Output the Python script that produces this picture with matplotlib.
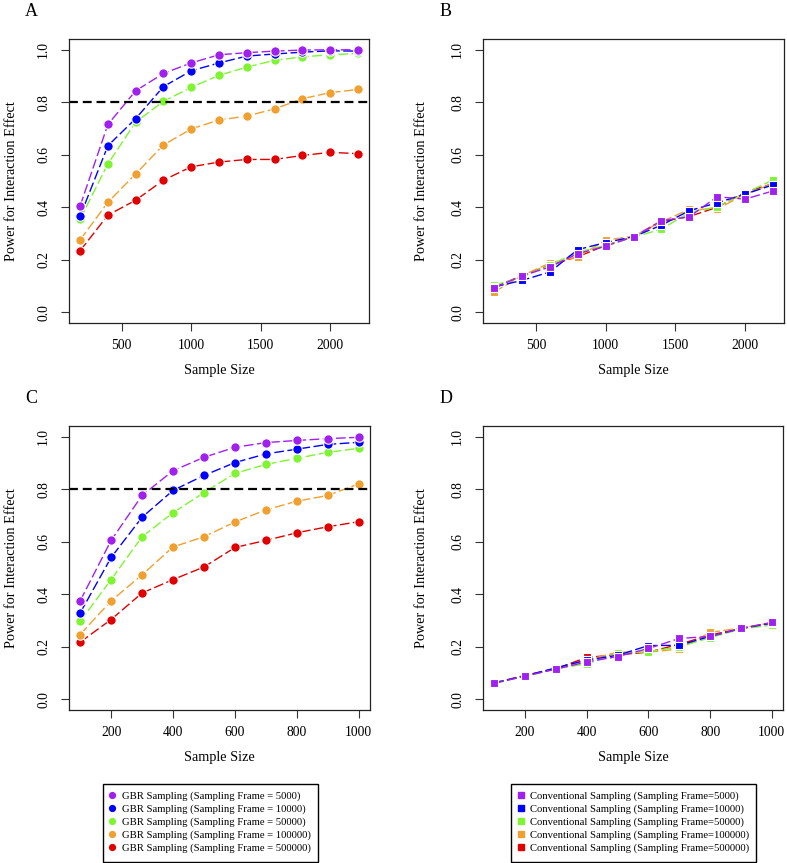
import matplotlib
matplotlib.use("Agg")
import matplotlib.pyplot as plt
from matplotlib.lines import Line2D
from matplotlib.patches import Rectangle

plt.rcParams['font.family'] = ['Liberation Serif', 'DejaVu Serif']

# ---------------- data ----------------
n_ab = [200, 400, 600, 800, 1000, 1200, 1400, 1600, 1800, 2000, 2200]
n_cd = [100, 200, 300, 400, 500, 600, 700, 800, 900, 1000]

frames = ["5000", "10000", "50000", "100000", "500000"]
colors = ["#A020F0", "#0000FF", "#7FF531", "#F0A030", "#E00000"]

# Panel A : GBR sampling
A_5000 = [0.405, 0.715, 0.843, 0.909, 0.949, 0.980, 0.988, 0.994, 0.998, 0.999, 0.999]
A_10000 = [0.366, 0.634, 0.737, 0.859, 0.919, 0.949, 0.975, 0.983, 0.990, 0.995, 0.994]
A_50000 = [0.355, 0.565, 0.724, 0.803, 0.856, 0.902, 0.933, 0.959, 0.972, 0.980, 0.985]
A_100000 = [0.276, 0.419, 0.527, 0.637, 0.698, 0.732, 0.747, 0.774, 0.813, 0.836, 0.848]
A_500000 = [0.235, 0.370, 0.427, 0.503, 0.554, 0.572, 0.582, 0.582, 0.597, 0.609, 0.604]

# Panel B : conventional sampling
B_5000 = [0.094, 0.139, 0.173, 0.224, 0.252, 0.288, 0.349, 0.364, 0.440, 0.431, 0.462]
B_10000 = [0.097, 0.122, 0.154, 0.239, 0.266, 0.288, 0.332, 0.387, 0.417, 0.450, 0.485]
B_50000 = [0.103, 0.135, 0.180, 0.230, 0.255, 0.286, 0.317, 0.380, 0.402, 0.453, 0.504]
B_100000 = [0.078, 0.140, 0.188, 0.211, 0.275, 0.290, 0.345, 0.392, 0.393, 0.450, 0.490]
B_500000 = [0.097, 0.140, 0.180, 0.212, 0.255, 0.288, 0.345, 0.365, 0.400, 0.457, 0.490]

# Panel C : GBR sampling
C_5000 = [0.375, 0.605, 0.776, 0.870, 0.921, 0.959, 0.977, 0.985, 0.992, 0.997]
C_10000 = [0.329, 0.540, 0.693, 0.795, 0.852, 0.901, 0.934, 0.952, 0.970, 0.978]
C_50000 = [0.297, 0.456, 0.619, 0.710, 0.787, 0.860, 0.894, 0.917, 0.940, 0.955]
C_100000 = [0.247, 0.375, 0.474, 0.580, 0.619, 0.675, 0.721, 0.754, 0.776, 0.820]
C_500000 = [0.218, 0.304, 0.405, 0.456, 0.504, 0.578, 0.605, 0.634, 0.657, 0.676]

# Panel D : conventional sampling
D_5000 = [0.061, 0.089, 0.115, 0.143, 0.163, 0.194, 0.232, 0.240, 0.270, 0.293]
D_10000 = [0.063, 0.090, 0.120, 0.150, 0.168, 0.205, 0.206, 0.240, 0.270, 0.290]
D_50000 = [0.066, 0.086, 0.118, 0.135, 0.175, 0.182, 0.200, 0.235, 0.268, 0.283]
D_100000 = [0.063, 0.090, 0.116, 0.150, 0.180, 0.180, 0.192, 0.255, 0.272, 0.292]
D_500000 = [0.063, 0.092, 0.117, 0.160, 0.170, 0.180, 0.210, 0.245, 0.270, 0.292]

threshold = 0.8
yticks = [0.0, 0.2, 0.4, 0.6, 0.8, 1.0]
xticks_ab = [500, 1000, 1500, 2000]
xticks_cd = [200, 400, 600, 800, 1000]

gbr_labels = ["GBR Sampling (Sampling Frame = %s)" % f for f in frames]
conv_labels = ["Conventional Sampling (Sampling Frame=%s)" % f for f in frames]

# ---------------- figure ----------------
W, H = 787, 863
fig = plt.figure(figsize=(W / 100, H / 100), dpi=100)


def fig_rect(x0, y0, x1, y1):
    return [x0 / W, 1 - y1 / H, (x1 - x0) / W, (y1 - y0) / H]


axA = fig.add_axes(fig_rect(69, 39, 369, 323))
axB = fig.add_axes(fig_rect(483, 39, 784, 323))
axC = fig.add_axes(fig_rect(69, 426, 370, 710))
axD = fig.add_axes(fig_rect(483, 426, 783, 710))

dash = (0, (7, 2.5))


def panel(ax, x, series, marker, ms, xticks, hline):
    # draw in reverse so that the first series is on top
    for ys, c in reversed(list(zip(series, colors))):
        ax.plot(x, ys, linestyle=dash, color=c, lw=1.0, marker=marker,
                markersize=ms, markerfacecolor=c, markeredgecolor='white',
                markeredgewidth=0.8)
    if hline:
        ax.axhline(threshold, color='black', lw=1.6, linestyle=(0, (4.0, 2.2)))
    span = x[-1] - x[0]
    ax.set_xlim(x[0] - 0.04 * span, x[-1] + 0.04 * span)
    ax.set_ylim(-0.04, 1.04)
    ax.set_xticks(xticks)
    ax.set_yticks(yticks)
    ax.set_yticklabels(["%.1f" % v for v in yticks], rotation=90, va='center')
    ax.tick_params(axis='both', direction='out', length=5.5, width=0.8,
                   labelsize=9.8, color='#333333')
    ax.tick_params(axis='y', pad=8)
    ax.tick_params(axis='x', pad=6)
    for s in ax.spines.values():
        s.set_linewidth(0.9)
        s.set_color('#222222')
    ax.set_xlabel("Sample Size", fontsize=10.3)
    ax.set_ylabel("Power for Interaction Effect", fontsize=10.3)
    ax.xaxis.set_label_coords(0.5, -0.145)


panel(axA, n_ab, [A_5000, A_10000, A_50000, A_100000, A_500000], 'o', 6.8, xticks_ab, True)
panel(axB, n_ab, [B_5000, B_10000, B_50000, B_100000, B_500000], 's', 5.8, xticks_ab, False)
panel(axC, n_cd, [C_5000, C_10000, C_50000, C_100000, C_500000], 'o', 6.8, xticks_cd, True)
panel(axD, n_cd, [D_5000, D_10000, D_50000, D_100000, D_500000], 's', 5.8, xticks_cd, False)

axA.yaxis.set_label_coords(-0.17, 0.5)
axC.yaxis.set_label_coords(-0.17, 0.5)
axB.yaxis.set_label_coords(-0.183, 0.5)
axD.yaxis.set_label_coords(-0.183, 0.5)

for lab, (px, py) in zip("ABCD", [(31, 11), (446, 11), (31, 398), (446, 398)]):
    fig.text(px / W, 1 - py / H, lab, fontsize=13, ha='center', va='center')

# ---------------- legends ----------------
h_gbr = [Line2D([], [], linestyle='none', marker='o', markersize=4.2,
                color=c) for c in colors]
h_conv = [Line2D([], [], linestyle='none', marker='s', markersize=3.8,
                 color=c) for c in colors]

leg_kw = dict(loc='center left', fontsize=7.7, frameon=False,
              borderaxespad=0, borderpad=0, handlelength=0.9,
              handletextpad=0.44, labelspacing=0.30)
fig.legend(h_gbr, gbr_labels, bbox_to_anchor=(107.5 / W, 1 - 822.5 / H), **leg_kw)
fig.legend(h_conv, conv_labels, bbox_to_anchor=(516 / W, 1 - 822.5 / H), **leg_kw)

for (x0, x1) in [(103, 318), (511, 756)]:
    fig.add_artist(Rectangle((x0 / W, 1 - 862 / H), (x1 - x0) / W, 78 / H,
                             transform=fig.transFigure, fill=False,
                             edgecolor='black', linewidth=1.0))

fig.savefig("out.png", dpi=100)
